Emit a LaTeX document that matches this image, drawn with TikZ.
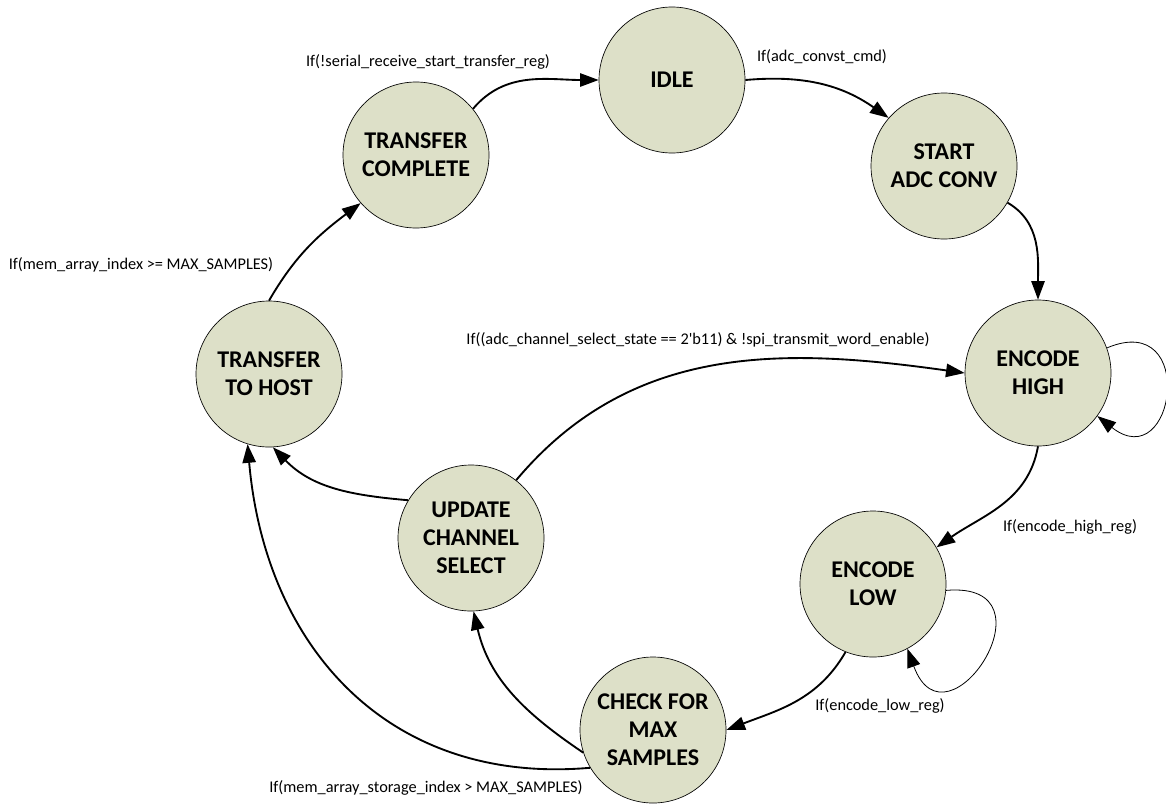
\documentclass[tikz,border=0pt]{standalone}
\usepackage{fontspec}
\setmainfont{Carlito}
\usetikzlibrary{arrows.meta}
\definecolor{statefill}{RGB}{221,224,200}

\begin{document}
\begin{tikzpicture}[x=0.75pt,y=0.75pt,
        state/.style={
        draw=black, line width=0.5pt, fill=statefill,
        circle,minimum size=109.5pt,inner sep=0pt,align=center,
        font=\bfseries\fontsize{18}{21}\selectfont},
        trans/.style={-{Triangle[length=14pt,width=10pt]},line width=1.4pt},
        selfloop/.style={-{Triangle[length=14pt,width=10pt]},line width=0.6pt},
        cond/.style={font=\fontsize{12.25}{14}\selectfont}]
        \useasboundingbox (0,0) rectangle (1166,-803);
        %states
        \node[state] (idle) at (672,-80) {IDLE};
        \node[state] (start) at (944,-166) {START\\ADC CONV};
        \node[state] (enchigh) at (1038,-373) {ENCODE\\HIGH};
        \node[state] (enclow) at (873,-584) {ENCODE\\LOW};
        \node[state] (chkmax) at (653,-730) {CHECK FOR\\MAX\\SAMPLES};
        \node[state] (updch) at (471,-538) {UPDATE\\CHANNEL\\SELECT};
        \node[state] (tohost) at (269,-374) {TRANSFER\\TO HOST};
        \node[state] (txdone) at (416,-155) {TRANSFER\\COMPLETE};
        %transitions
        \draw[trans] (txdone.39) to[out=50,in=180] (idle.180);
        \draw[trans] (idle.0) to[out=5,in=145] (start.139);
        \draw[trans] (start.-30) to[out=-30,in=90] (enchigh.90);
        \draw[selfloop] (enchigh.20) .. controls +(23:99) and +(-38:99) .. (enchigh.-36);
        \draw[trans] (enchigh.-90) to[out=-100,in=35] (enclow.30);
        \draw[selfloop] (enclow.-5) .. controls +(5:115) and +(-70:115) .. (enclow.-62);
        \draw[trans] (enclow.-112) to[out=-120,in=21] (chkmax.0);
        \draw[trans] (chkmax.198) to[out=146,in=-77] (updch.-88);
        \draw[trans] (chkmax.211) to[out=185,in=-85,looseness=1.1] (tohost.-107);
        \draw[trans] (updch.149) to[out=175,in=-46] (tohost.-87);
        \draw[trans] (updch.52) to[out=50,in=172] (enchigh.180);
        \draw[trans] (tohost.90) to[out=60,in=217] (txdone.221);
        %conditions
        \node[cond] (c1) at (428,-62) {If(!serial\_receive\_start\_transfer\_reg)};
        \node[cond] (c2) at (822,-57) {If(adc\_convst\_cmd)};
        \node[cond] (c3) at (141,-265) {If(mem\_array\_index >= MAX\_SAMPLES)};
        \node[cond] (c4) at (698,-340) {If((adc\_channel\_select\_state == 2\textquotesingle b11) \& !spi\_transmit\_word\_enable)};
        \node[cond] (c5) at (1070,-527) {If(encode\_high\_reg)};
        \node[cond] (c6) at (880,-706) {If(encode\_low\_reg)};
        \node[cond] (c7) at (426,-788) {If(mem\_array\_storage\_index > MAX\_SAMPLES)};
    \end{tikzpicture}
\end{document}
